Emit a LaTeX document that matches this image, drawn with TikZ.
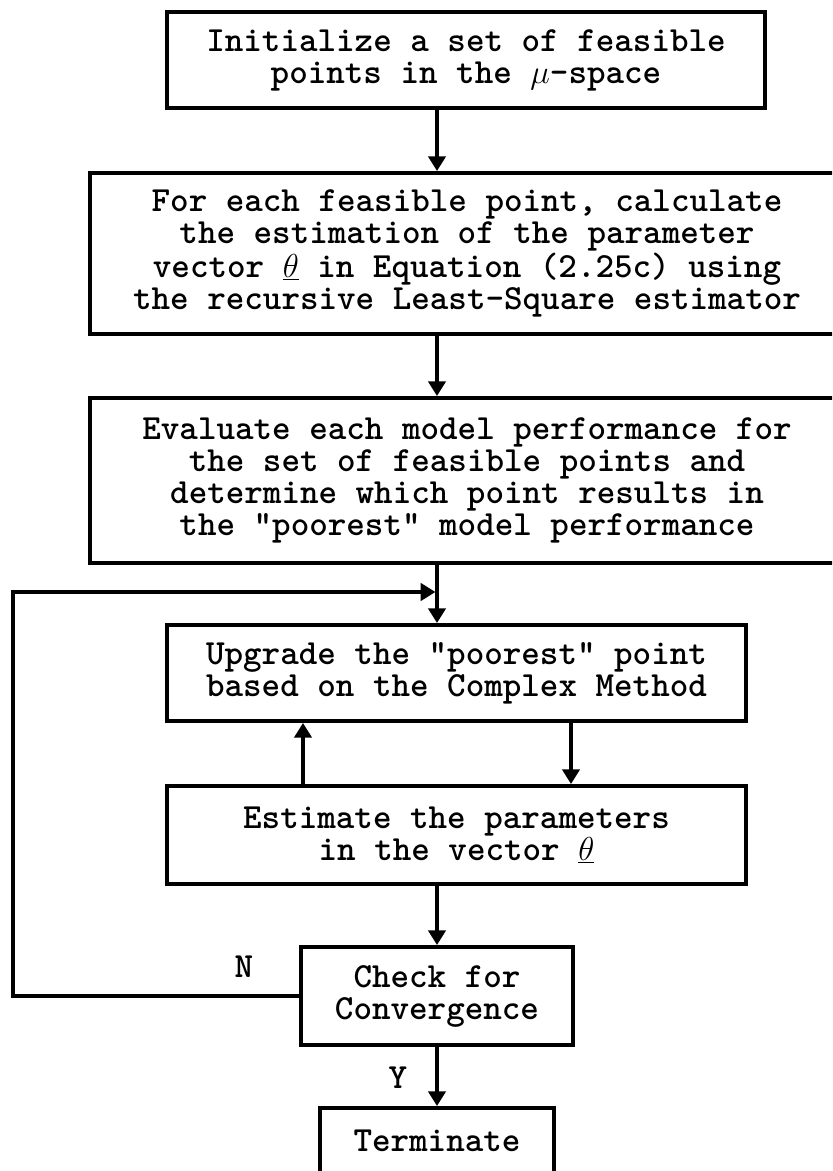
\documentclass[tikz,border=0pt]{standalone}
\usetikzlibrary{arrows.meta}
\newcommand{\flowfont}{\ttfamily\bfseries\fontsize{26.5}{24}\selectfont}
\tikzset{
  box/.style={draw, line width=3pt, align=center, inner sep=0pt, font=\flowfont},
  arr/.style={-{Triangle[length=11pt, width=13pt]}, line width=2.4pt},
  lbl/.style={font=\flowfont, inner sep=0pt},
}

\begin{document}
\begin{tikzpicture}[x=0.75pt, y=-0.75pt]
  \useasboundingbox (0,0) rectangle (832,1171);
  \fill[white] (0,0) rectangle (832,1171);
  \clip (0,0) rectangle (832,1171);

  % boxes, positions in px from the top left corner
  \node[box, minimum width=448.5pt, minimum height=72pt] (init) at (466,60)
    {Initialize a set of feasible\\points in the $\mu$-space};
  \node[box, minimum width=565.5pt, minimum height=120.75pt] (calc) at (467,253.5)
    {For each feasible point, calculate\\the estimation of the parameter\\vector $\underline{\theta}$ in Equation (2.25c) using\\the recursive Least-Square estimator};
  \node[box, minimum width=565.5pt, minimum height=123.75pt] (evalperf) at (467,480.5)
    {Evaluate each model performance for\\the set of feasible points and\\determine which point results in\\the "poorest" model performance};
  \node[box, minimum width=434.25pt, minimum height=72pt] (upgrade) at (456.5,673)
    {Upgrade the "poorest" point\\based on the Complex Method};
  \node[box, minimum width=434.25pt, minimum height=73.5pt] (params) at (456.5,835)
    {Estimate the parameters\\in the vector $\underline{\theta}$};
  \node[box, minimum width=204pt, minimum height=73.5pt] (check) at (437,996)
    {Check for\\Convergence};
  \node[box, minimum width=175.5pt, minimum height=48.75pt] (stop) at (437,1140.5)
    {Terminate};

  % helper coordinates for the connectors
  \coordinate (spine) at (437,0);
  \coordinate (upx) at (303,0);
  \coordinate (downx) at (571,0);
  \coordinate (loopx) at (13,0);
  \coordinate (merge) at (437,592);

  % main flow
  \draw[arr] (init.south -| spine) -- (calc.north -| spine);
  \draw[arr] (calc.south -| spine) -- (evalperf.north -| spine);
  \draw[arr] (evalperf.south -| spine) -- (upgrade.north -| spine);
  \draw[arr] (upgrade.south -| downx) -- (params.north -| downx);
  \draw[arr] (params.north -| upx) -- (upgrade.south -| upx);
  \draw[arr] (params.south -| spine) -- (check.north);
  \draw[arr] (check.south) -- (stop.north);

  % loop back when not converged
  \draw[arr, shorten >=1.2pt] (check.west) -- (check.west -| loopx) |- (merge);

  \node[lbl] (lblN) at (244,967) {N};
  \node[lbl] (lblY) at (398,1078) {Y};
\end{tikzpicture}
\end{document}
